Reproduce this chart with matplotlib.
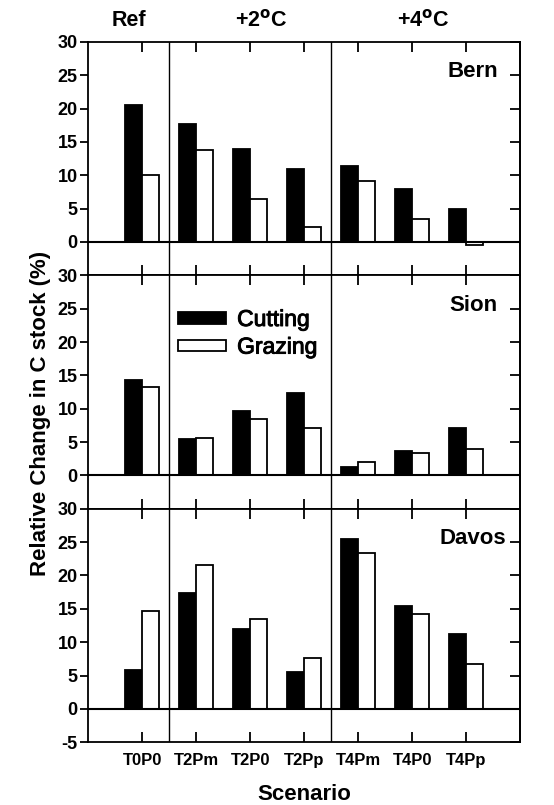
import numpy as np
import matplotlib
matplotlib.use('Agg')
import matplotlib.pyplot as plt
import matplotlib.patheffects as pe
from matplotlib.patches import Patch

plt.rcParams['font.family'] = ['Liberation Sans', 'DejaVu Sans']
plt.rcParams['axes.unicode_minus'] = False

scenarios = ['T0P0', 'T2Pm', 'T2P0', 'T2Pp', 'T4Pm', 'T4P0', 'T4Pp']
sites = ['Bern', 'Sion', 'Davos']
groups = ['Ref', '+2$^{\\mathbf{o}}$C', '+4$^{\\mathbf{o}}$C']

bern_cut = [20.5, 17.7, 13.9, 11.0, 11.4, 8.0, 4.9]
bern_graz = [10.0, 13.8, 6.4, 2.2, 9.2, 3.5, -0.4]
sion_cut = [14.3, 5.4, 9.6, 12.3, 1.2, 3.6, 7.1]
sion_graz = [13.2, 5.6, 8.5, 7.1, 2.0, 3.3, 4.0]
davos_cut = [5.9, 17.4, 12.0, 5.6, 25.4, 15.4, 11.2]
davos_graz = [14.6, 21.6, 13.5, 7.6, 23.3, 14.2, 6.8]

cutting = [bern_cut, sion_cut, davos_cut]
grazing = [bern_graz, sion_graz, davos_graz]

x = np.arange(1, len(scenarios) + 1)
w = 0.31
lw = 1.3

fig = plt.figure(figsize=(5.54, 8.05), dpi=100)
gs = fig.add_gridspec(3, 1, left=0.159, right=0.939, top=0.948, bottom=0.078, hspace=0)

for i in range(3):
    ax = fig.add_subplot(gs[i])
    ax.bar(x - w, cutting[i], width=w, align='edge', color='black', edgecolor='black', linewidth=lw, zorder=3)
    ax.bar(x, grazing[i], width=w, align='edge', color='white', edgecolor='black', linewidth=lw, zorder=3)
    ax.axhline(0, color='black', linewidth=1.5, zorder=4)
    ax.axvline(1.5, color='black', linewidth=1.0)
    ax.axvline(4.5, color='black', linewidth=1.0)

    ax.set_xlim(0, 8)
    ax.set_ylim(-5, 30)
    ax.set_xticks(x)
    ax.tick_params(axis='x', direction='in', top=True, bottom=True, length=7, width=1.3)
    if i == 2:
        ax.set_xticklabels(scenarios, fontsize=12, fontweight='bold')
        ax.tick_params(axis='x', pad=8)
        ax.set_yticks(np.arange(-5, 31, 5))
    else:
        ax.set_xticklabels([])
        ax.set_yticks(np.arange(0, 31, 5))
    ax.tick_params(axis='y', direction='out', length=6, width=1.3, pad=1.5, labelsize=13)
    for lab in ax.get_yticklabels():
        lab.set_fontweight('bold')

    sec = ax.secondary_yaxis('right')
    sec.set_yticks(ax.get_yticks())
    sec.tick_params(direction='in', length=7, width=1.3, labelright=False)
    sec.spines['right'].set_linewidth(1.3)

    for s in ax.spines.values():
        s.set_linewidth(1.3)

    ax.text(7.13, 25.5, sites[i], ha='center', va='center', fontsize=16, fontweight='bold')

    if i == 0:
        for gx, g in zip([0.75, 3.2, 6.2], groups):
            ax.text(gx, 1.09, g, transform=ax.get_xaxis_transform(), ha='center', va='center',
                    fontsize=15.5, fontweight='bold')
    if i == 1:
        handles = [Patch(facecolor='black', edgecolor='black', linewidth=lw),
                   Patch(facecolor='white', edgecolor='black', linewidth=lw)]
        leg = ax.legend(handles, ['Cutting', 'Grazing'], loc='upper left', bbox_to_anchor=(0.207, 0.86),
                        frameon=False, fontsize=16.5, handlelength=2.1, handleheight=0.4,
                        handletextpad=0.5, labelspacing=0.2, borderpad=0, borderaxespad=0)
        for t in leg.get_texts():
            t.set_path_effects([pe.withStroke(linewidth=0.7, foreground='black')])

fig.text(0.073, 0.487, 'Relative Change in C stock (%)', rotation=90, ha='center', va='center',
         fontsize=16, fontweight='bold')
fig.text(0.549, 0.013, 'Scenario', ha='center', va='center', fontsize=16, fontweight='bold')

plt.savefig('out.png', dpi=100)
